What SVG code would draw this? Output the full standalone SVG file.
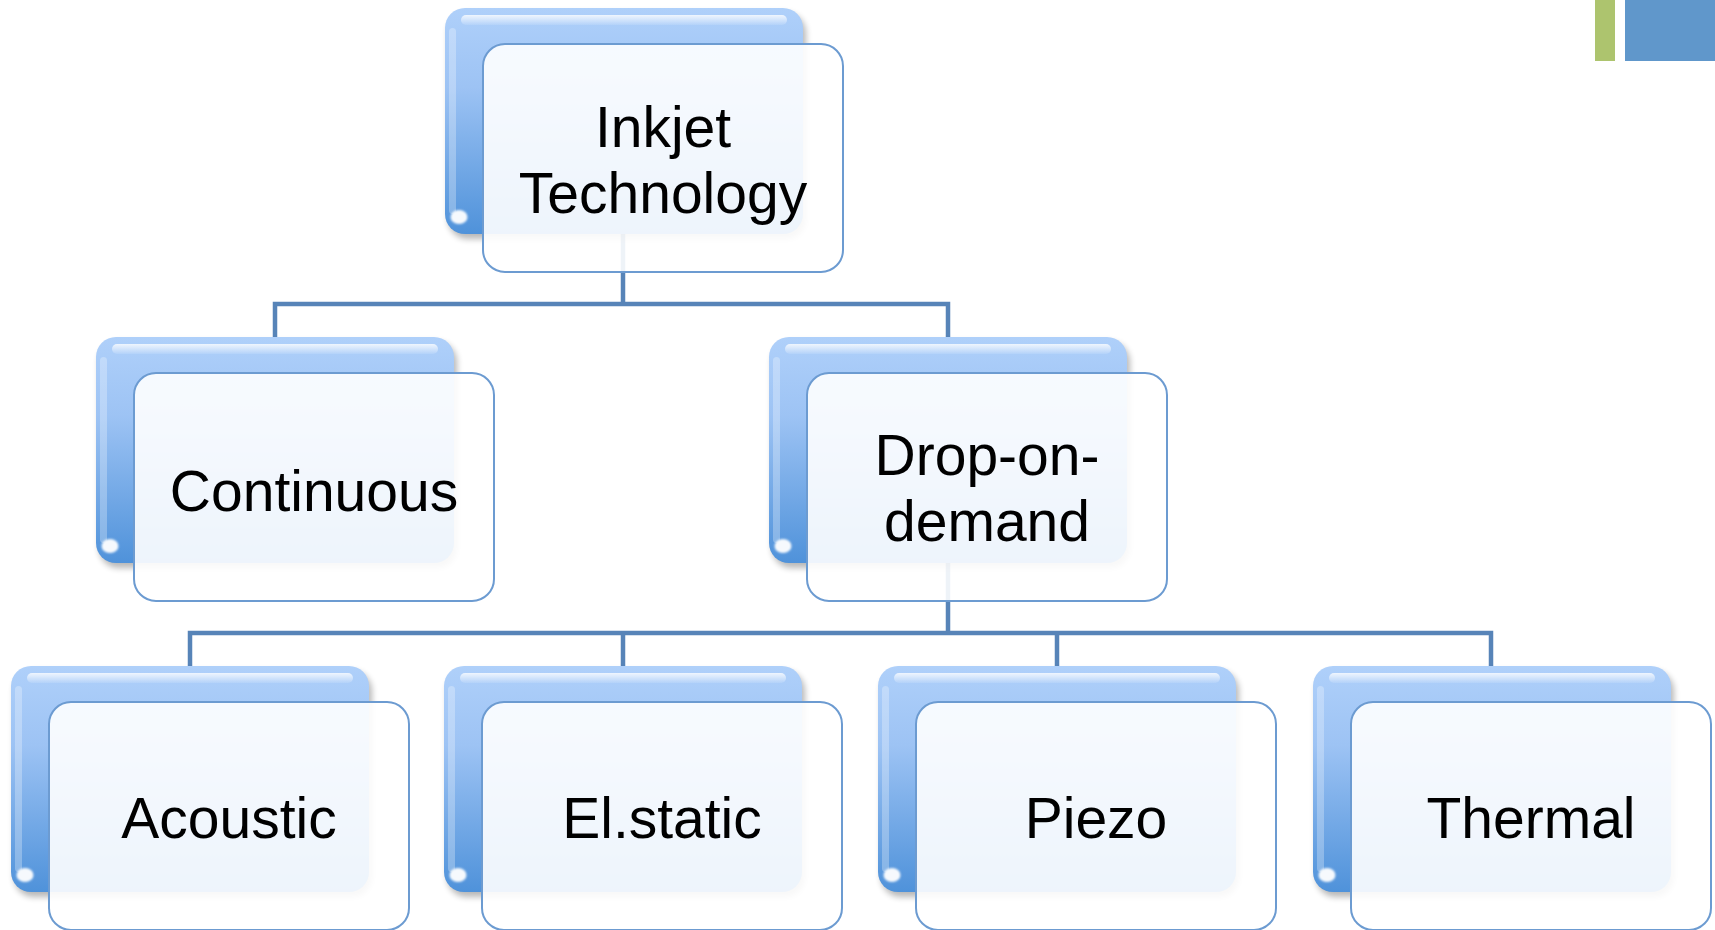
<svg xmlns="http://www.w3.org/2000/svg" width="1715" height="930" viewBox="0 0 1715 930">
<style>
.conn{fill:none;stroke:#5784B8;stroke-width:4.5;stroke-linejoin:miter}
.shadow{fill:#000;opacity:0.28}
.back{fill:url(#backGrad)}
.hlTop{fill:url(#hlGrad)}
.hlLeft{fill:#fff;opacity:0.28}
.spot{fill:#fff;opacity:0.95}
.front{fill:#fff;fill-opacity:0.9;stroke:#6C9BD1;stroke-width:2}
.lbl{font-family:"Liberation Sans","Open Sans",sans-serif;font-size:57px;fill:#000;text-anchor:middle}
</style>
<defs>
<linearGradient id="backGrad" x1="0" y1="0" x2="0" y2="1">
<stop offset="0" stop-color="#AFD0FA"/>
<stop offset="0.35" stop-color="#9DC3F4"/>
<stop offset="1" stop-color="#4F92DA"/>
</linearGradient>
<linearGradient id="hlGrad" x1="0" y1="0" x2="0" y2="1">
<stop offset="0" stop-color="#fff" stop-opacity="0.8"/>
<stop offset="1" stop-color="#fff" stop-opacity="0.1"/>
</linearGradient>
<filter id="blur" x="-10%" y="-10%" width="120%" height="120%"><feGaussianBlur stdDeviation="3"/></filter>
<filter id="blur1" x="-50%" y="-50%" width="200%" height="200%"><feGaussianBlur stdDeviation="1.3"/></filter>
<g id="nodeBase">
<rect class="shadow" x="3" y="5" width="358" height="226" rx="20" filter="url(#blur)"/>
<rect class="back" x="0" y="0" width="358" height="226" rx="20"/>
<rect class="hlTop" x="16" y="7" width="326" height="10" rx="5"/>
<rect class="hlLeft" x="4" y="20" width="7" height="186" rx="3.5"/>
<ellipse class="spot" cx="14" cy="209" rx="8.5" ry="7" filter="url(#blur1)"/>
<rect class="front" x="38" y="36" width="360" height="228" rx="22"/>
</g>
</defs>

<rect x="1595" y="0" width="20" height="61" fill="#ADC46E"/>
<rect x="1625" y="0" width="90" height="61" fill="#6097CB"/>

<g id="connectors">
<path class="conn" d="M623 234 V304 M275 337 V304 H948 V337"/>
<path class="conn" d="M948 563 V633 M190 666 V633 H1491 V666 M623 633 V666 M1057 633 V666"/>
</g>

<g id="node-inkjet" transform="translate(445,8)">
<use href="#nodeBase"/>
<text class="lbl"><tspan x="218" y="139">Inkjet</tspan><tspan x="218" y="205">Technology</tspan></text>
</g>
<g id="node-continuous" transform="translate(96,337)">
<use href="#nodeBase"/>
<text class="lbl" x="218" y="174">Continuous</text>
</g>
<g id="node-dod" transform="translate(769,337)">
<use href="#nodeBase"/>
<text class="lbl"><tspan x="218" y="138">Drop-on-</tspan><tspan x="218" y="204">demand</tspan></text>
</g>
<g id="node-acoustic" transform="translate(11,666)">
<use href="#nodeBase"/>
<text class="lbl" x="218" y="172">Acoustic</text>
</g>
<g id="node-elstatic" transform="translate(444,666)">
<use href="#nodeBase"/>
<text class="lbl" x="218" y="172">El.static</text>
</g>
<g id="node-piezo" transform="translate(878,666)">
<use href="#nodeBase"/>
<text class="lbl" x="218" y="172">Piezo</text>
</g>
<g id="node-thermal" transform="translate(1313,666)">
<use href="#nodeBase"/>
<text class="lbl" x="218" y="172">Thermal</text>
</g>
</svg>
